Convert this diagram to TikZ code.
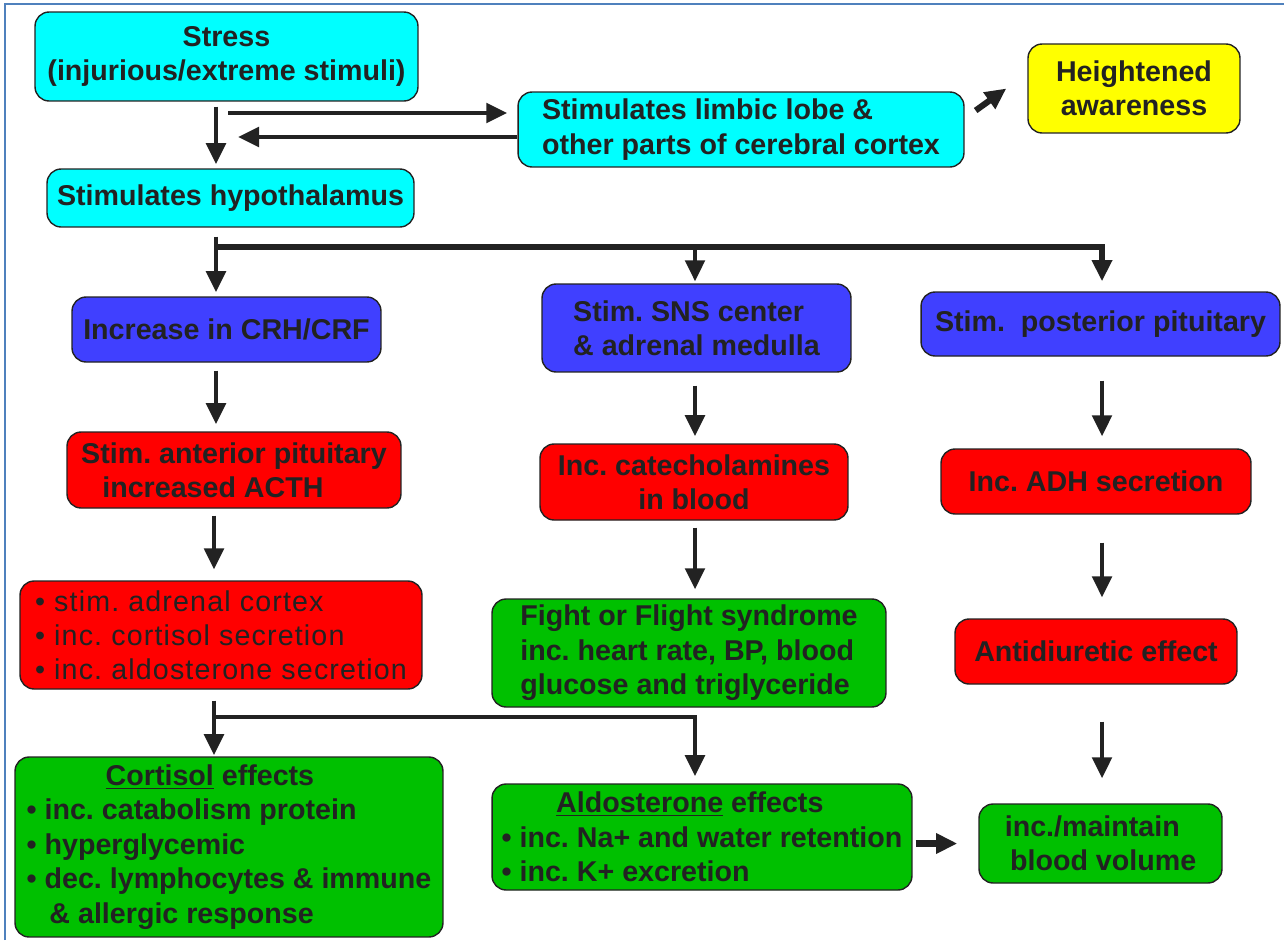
\documentclass[tikz,border=0pt]{standalone}
\usepackage{fontspec}
\setmainfont{Liberation Sans}
\newfontfamily\spacedfont[LetterSpace=4]{Liberation Sans}
\usepackage{xcolor}
\usepackage{tikz}
\usetikzlibrary{arrows.meta, positioning, calc}

\definecolor{boxcyan}{RGB}{0,255,255}
\definecolor{boxyellow}{RGB}{255,255,0}
\definecolor{boxblue}{RGB}{64,64,255}
\definecolor{boxred}{RGB}{255,0,0}
\definecolor{boxgreen}{RGB}{0,192,0}
\definecolor{inkgray}{RGB}{34,34,34}
\definecolor{frameblue}{RGB}{79,129,189}

\tikzset{
  box/.style={draw=inkgray, line width=0.8pt, rounded corners=8pt, inner sep=2pt, text=inkgray,
    font=\bfseries\fontsize{16.3}{19.6}\selectfont, align=center},
  arr/.style={draw=inkgray, line width=2.5pt, -{Triangle[width=11pt,length=12pt]}},
}
\frenchspacing

\begin{document}
\begin{tikzpicture}[x=0.02cm, y=-0.02cm]
\useasboundingbox (0,0) rectangle (1284,940);
\draw[frameblue, line width=1.2pt] (5,940) -- (5,4) -- (1284,4);

\node[box, fill=boxcyan, minimum width=7.66cm, minimum height=1.78cm] (stress) at (226.5,56.5) {Stress\\(injurious/extreme stimuli)};
\node[box, fill=boxcyan, align=left, minimum width=8.92cm, minimum height=1.5cm] (limbic) at (741,129.5) {Stimulates limbic lobe \&\\other parts of cerebral cortex};
\node[box, fill=boxyellow, minimum width=4.24cm, minimum height=1.78cm] (aware) at (1134,88.5) {Heightened\\awareness};
\node[box, fill=boxcyan, minimum width=7.34cm, minimum height=1.16cm] (hypo) at (230.5,198) {Stimulates hypothalamus};

\node[box, fill=boxblue, minimum width=6.18cm, minimum height=1.3cm] (crh) at (226.5,329.5) {Increase in CRH/CRF};
\node[box, fill=boxblue, align=left, minimum width=6.18cm, minimum height=1.76cm] (sns) at (696.5,328) {Stim. SNS center\\\& adrenal medulla};
\node[box, fill=boxblue, minimum width=7.18cm, minimum height=1.28cm] (post) at (1100.5,324) {Stim.\ \ posterior pituitary};

\node[box, fill=boxred, align=left, minimum width=6.68cm, minimum height=1.52cm] (ant) at (234,470) {Stim. anterior pituitary\\\hspace*{12pt}increased ACTH};
\node[box, fill=boxred, minimum width=6.16cm, minimum height=1.52cm] (cat) at (694,482) {Inc. catecholamines\\in blood};
\node[box, fill=boxred, minimum width=6.2cm, minimum height=1.3cm] (adh) at (1096,481.5) {Inc. ADH secretion};

\node[box, fill=boxred, align=left, font=\spacedfont\fontsize{16.3}{19.3}\selectfont, minimum width=8.04cm, minimum height=2.16cm] (adr) at (221,635) {\textbullet{} stim. adrenal cortex\\\textbullet{} inc. cortisol secretion\\\textbullet{} inc. aldosterone secretion};
\node[box, fill=boxgreen, align=left, minimum width=7.88cm, minimum height=2.16cm] (fight) at (689,653) {Fight or Flight syndrome\\inc. heart rate, BP, blood\\glucose and triglyceride};
\node[box, fill=boxred, minimum width=5.64cm, minimum height=1.3cm] (anti) at (1096,651.5) {Antidiuretic effect};

\node[box, fill=boxgreen, align=left, minimum width=8.56cm, minimum height=3.6cm] (cort) at (229,847) {\hspace*{45pt}\underline{Cortisol} effects\\\textbullet{} inc. catabolism protein\\\textbullet{} hyperglycemic\\\textbullet{} dec. lymphocytes \& immune\\\hspace*{13pt}\& allergic response};
\node[box, fill=boxgreen, align=left, minimum width=8.4cm, minimum height=2.12cm] (aldo) at (702,837) {\hspace*{31pt}\underline{Aldosterone} effects\\\textbullet{} inc. Na+ and water retention\\\textbullet{} inc. K+ excretion};
\node[box, fill=boxgreen, align=left, minimum width=4.86cm, minimum height=1.58cm] (vol) at (1100.5,843.5) {inc./maintain\\\hspace*{3pt}blood volume};

\coordinate (c1) at (216,0);
\coordinate (c2) at (695,0);
\coordinate (c3) at (1102,0);
\coordinate (s1) at (216,247);
\coordinate (s2) at (214,717);
\coordinate (lt) at (228,113);
\coordinate (lb) at (238,137);

\draw[arr, shorten <=2.8pt, shorten >=2.3pt] (stress.south -| c1) -- (hypo.north -| c1);
\draw[arr, shorten >=5.7pt] (lt) -- (lt -| limbic.west);
\draw[arr] (lb -| limbic.west) -- (lb);
\draw[arr, line width=3.5pt] ($(limbic.east)+(11,-19)$) -- ($(aware.west)+(-21,0)$);

\draw[arr, shorten <=5.1pt, shorten >=2.3pt] (hypo.south -| c1) -- (crh.north -| c1);
\draw[arr, line width=3.2pt, shorten >=5.7pt] (s1) -- (s1 -| c3) -- (post.north -| c3);
\draw[arr, shorten >=1.1pt] (s1 -| c2) -- (sns.north -| c2);

\draw[arr, shorten <=4.5pt, shorten >=4pt] (crh.south -| c1) -- (ant.north -| c1);
\draw[arr, shorten <=7.4pt, shorten >=4pt] (sns.south -| c2) -- (cat.north -| c2);
\draw[arr, shorten <=13.6pt, shorten >=6.8pt] (post.south -| c3) -- (adh.north -| c3);

\draw[arr, shorten <=4pt, shorten >=6.2pt] (ant.south -| s2) -- (adr.north -| s2);
\draw[arr, shorten <=4pt, shorten >=5.1pt] (cat.south -| c2) -- (fight.north -| c2);
\draw[arr, shorten <=15.9pt, shorten >=11.9pt] (adh.south -| c3) -- (anti.north -| c3);

\draw[arr, shorten <=6.2pt, shorten >=0.6pt] (adr.south -| s2) -- (cort.north -| s2);
\draw[arr, shorten >=4pt] (s2) -- (s2 -| c2) -- (aldo.north -| c2);
\draw[arr, shorten <=21pt, shorten >=14.2pt] (anti.south -| c3) -- (vol.north -| c3);
\draw[arr, line width=4.5pt, shorten <=1.7pt, shorten >=12pt] (aldo.east |- vol.west) -- (vol.west);
\end{tikzpicture}
\end{document}
